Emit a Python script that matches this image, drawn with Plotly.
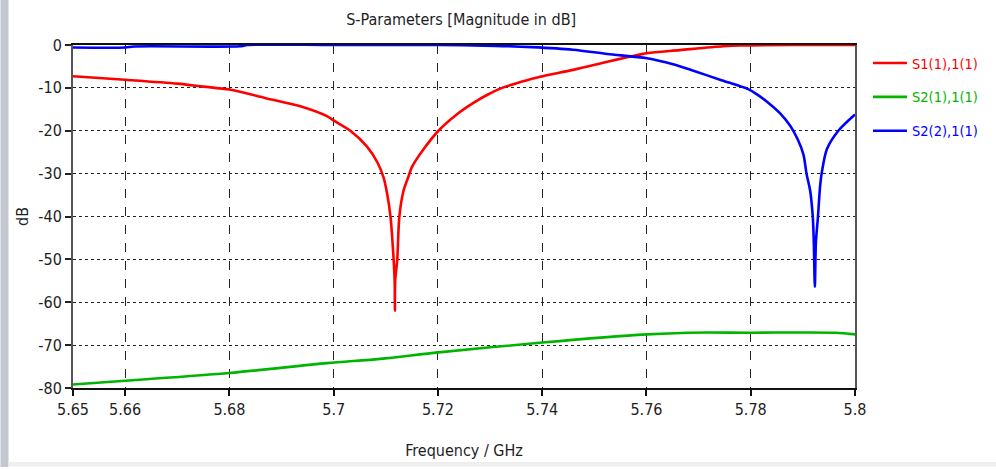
import plotly.graph_objects as go

# ---- data ----
s11_freq = [5.650, 5.660, 5.670, 5.675, 5.680, 5.687, 5.6936, 5.6987, 5.700, 5.7032,
            5.7064, 5.7084, 5.7096, 5.7103, 5.7109, 5.7115, 5.7117, 5.71175, 5.7118,
            5.7122, 5.7126, 5.7134, 5.7144, 5.7150, 5.7172, 5.7201, 5.7236, 5.7268,
            5.7295, 5.7323, 5.7360, 5.7396, 5.7459, 5.7525, 5.7569, 5.7601, 5.7664,
            5.7747, 5.7780, 5.790, 5.800]
s11_db = [-7.3, -8.1, -9.0, -9.7, -10.4, -12.4, -14.3, -16.6, -17.6, -20.0,
          -23.7, -27.4, -31.0, -35.0, -40.0, -50.0, -55.0, -62.0, -55.0,
          -50.0, -40.0, -34.0, -30.5, -28.5, -24.4, -20.0, -16.2, -13.5,
          -11.6, -10.0, -8.6, -7.4, -5.8, -3.9, -2.7, -1.9, -1.2,
          -0.3, -0.1, 0.0, 0.0]

s21_freq = [5.650, 5.660, 5.680, 5.6987, 5.7089, 5.7201, 5.740, 5.760, 5.768, 5.780, 5.7962, 5.800]
s21_db = [-79.2, -78.3, -76.5, -74.2, -73.2, -71.7, -69.4, -67.5, -67.1, -67.1, -67.1, -67.5]

s22_freq = [5.650, 5.660, 5.6617, 5.682, 5.6835, 5.700, 5.720, 5.731, 5.738, 5.7459,
            5.7525, 5.7601, 5.7651, 5.7690, 5.7741, 5.7795, 5.7812, 5.7837, 5.7856,
            5.7876, 5.7890, 5.7901, 5.7907, 5.7914, 5.7919, 5.7921, 5.7923, 5.7925,
            5.7929, 5.7933, 5.7936, 5.7946, 5.7968, 5.800]
s22_db = [-0.6, -0.6, -0.35, -0.3, 0.0, 0.0, 0.0, -0.2, -0.5, -1.1,
          -2.1, -3.1, -4.5, -6.0, -8.1, -10.3, -11.5, -13.8, -15.9,
          -18.9, -22.0, -25.5, -30.0, -34.0, -40.0, -46.0, -56.4, -46.0,
          -40.0, -33.0, -30.0, -24.3, -20.0, -16.2]

series_names = ["S1(1),1(1)", "S2(1),1(1)", "S2(2),1(1)"]
series_colors = ["#ff0000", "#00b400", "#0000ff"]

x_tickvals = [5.65, 5.66, 5.68, 5.70, 5.72, 5.74, 5.76, 5.78, 5.80]
x_ticktext = ["5.65", "5.66", "5.68", "5.7", "5.72", "5.74", "5.76", "5.78", "5.8"]
y_tickvals = [0, -10, -20, -30, -40, -50, -60, -70, -80]
y_ticktext = ["0", "-10", "-20", "-30", "-40", "-50", "-60", "-70", "-80"]

FONT = "DejaVu Sans Condensed, Liberation Sans Narrow, Liberation Sans, sans-serif"
TXT = "#1e1e1e"

fig = go.Figure()
for i, (fx, fy) in enumerate([(s11_freq, s11_db), (s21_freq, s21_db), (s22_freq, s22_db)]):
    fig.add_trace(go.Scatter(
        x=fx, y=fy, mode="lines",
        name=f'<span style="color:{series_colors[i]}">{series_names[i]}</span>',
        line=dict(color=series_colors[i], width=2.6, shape="spline", smoothing=0.8),
        legendgroup=f"g{i}",
    ))

fig.update_layout(
    width=996, height=469,
    margin=dict(l=73, r=141, t=45, b=79),
    paper_bgcolor="white", plot_bgcolor="white",
    font=dict(family=FONT, size=16, color=TXT),
    title=dict(text="S-Parameters [Magnitude in dB]", x=0.463, xanchor="center",
               y=1 - 19 / 469, yanchor="middle", font=dict(family=FONT, size=16, color=TXT)),
    showlegend=True,
    legend=dict(x=1.0166, xanchor="left", y=0.994, yanchor="top", itemwidth=34,
                bgcolor="rgba(0,0,0,0)", tracegroupgap=12,
                font=dict(family=FONT, size=14.5)),
    shapes=[
        dict(type="rect", xref="paper", yref="paper", x0=-0.0927, x1=-0.0825, y0=-0.23, y1=1.131,
             fillcolor="#c3c8d2", line=dict(width=0), layer="below"),
        dict(type="rect", xref="paper", yref="paper", x0=-0.0825, x1=1.181, y0=-0.229, y1=-0.216,
             fillcolor="#eeeeee", line=dict(width=0), layer="below"),
    ],
)

fig.update_xaxes(
    range=[5.65, 5.80], tickvals=x_tickvals, ticktext=x_ticktext,
    showgrid=True, gridcolor="#222222", griddash="dash", gridwidth=1.2,
    showline=True, linecolor="#111111", linewidth=2, mirror=True,
    ticks="outside", ticklen=6, tickcolor="#111111", tickwidth=1.5,
    zeroline=False,
    title=dict(text="Frequency / GHz", standoff=27, font=dict(family=FONT, size=16, color=TXT)),
    tickfont=dict(family=FONT, size=16, color=TXT),
)
fig.update_yaxes(
    range=[-80, 0], tickvals=y_tickvals, ticktext=y_ticktext,
    showgrid=True, gridcolor="#222222", griddash="dot", gridwidth=1.2,
    showline=True, linecolor="#555555", linewidth=2, mirror=True,
    ticks="outside", ticklen=6, tickcolor="#222222", tickwidth=1.5,
    zeroline=False,
    title=dict(text="dB", standoff=6, font=dict(family=FONT, size=16, color=TXT)),
    tickfont=dict(family=FONT, size=16, color=TXT),
)

fig.write_html("out.html")
